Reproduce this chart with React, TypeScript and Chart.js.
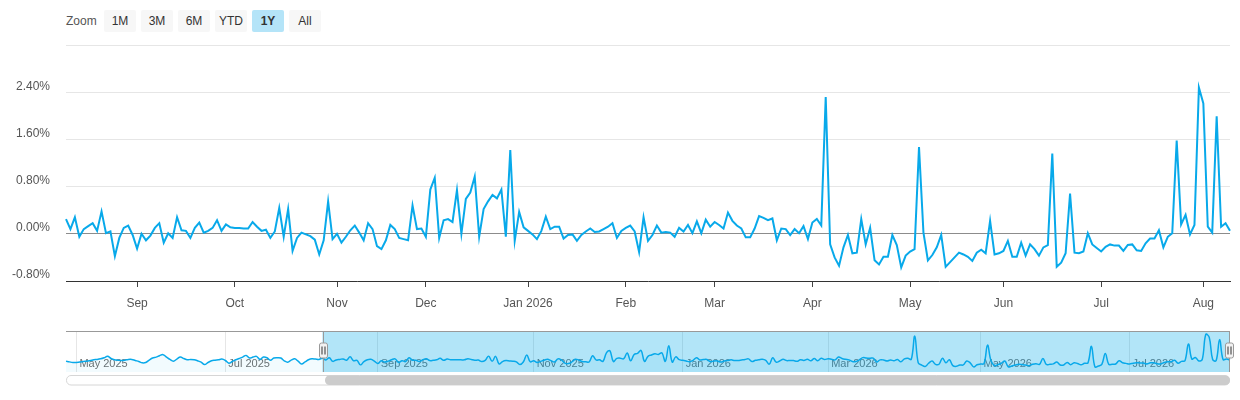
import React, { useEffect, useRef } from 'react';
import Chart from 'chart.js/auto';

// ---------- data ----------
const MAIN_START_DATE = '2025-08-08';
const NAV_START_DATE = '2025-04-28';

// daily values (%) shown in the main 1Y window
const MAIN_VALUES: number[] = [
  0.25, 0.08, 0.28, -0.05, 0.08, 0.13, 0.18, 0.05, 0.38, 0.01,
  0.04, -0.38, -0.07, 0.10, 0.14, -0.02, -0.25, 0.00, -0.11, -0.03,
  0.10, 0.18, -0.15, 0.01, -0.07, 0.28, 0.06, 0.05, -0.07, 0.10,
  0.19, 0.02, 0.05, 0.10, 0.23, 0.05, 0.16, 0.11, 0.10, 0.10,
  0.09, 0.09, 0.20, 0.12, 0.05, 0.07, -0.07, 0.04, 0.44, -0.05,
  0.42, -0.29, -0.07, 0.02, -0.01, -0.04, -0.10, -0.35, -0.11, 0.55,
  -0.09, 0.00, -0.15, -0.05, 0.06, 0.14, 0.02,
  -0.11, 0.18, 0.08, -0.21, -0.26, -0.11, 0.15, 0.08, -0.07, -0.09,
  -0.11, 0.48, 0.08, 0.09, -0.05, 0.75, 0.95, -0.07, 0.23, 0.25,
  0.20, 0.74, 0.00, 0.59, 0.70, 0.97, -0.05, 0.42, 0.55, 0.66,
  0.60, 0.75, -0.05, 1.42, -0.12, 0.37, 0.11, 0.05, -0.01, -0.09,
  0.05, 0.29, 0.08, 0.12, 0.12, -0.08, -0.02, -0.01, -0.12, -0.02,
  0.04, 0.09, 0.03, 0.04, 0.08, 0.12, 0.18, -0.07, 0.05, 0.10,
  0.14, 0.04, -0.31, 0.28, -0.12,
  -0.02, 0.14, 0.02, 0.03, 0.02, -0.05, 0.10, 0.04, 0.15, 0.01,
  0.21, 0.01, 0.24, 0.12, 0.20, 0.15, 0.09, 0.36, 0.22, 0.14,
  0.09, -0.06, -0.06, 0.09, 0.30, 0.27, 0.23, 0.26, -0.11, 0.09,
  0.08, -0.02, 0.08, 0.01, 0.13, -0.09, 0.19, 0.25, 0.14, 2.32,
  -0.18, -0.40, -0.54, -0.23, -0.02, -0.33, -0.32, 0.25, -0.18, 0.10,
  -0.45, -0.52, -0.39, -0.39, -0.02, -0.19, -0.57, -0.37, -0.30, -0.26,
  1.47, 0.02, -0.45, -0.36, -0.23, -0.02,
  -0.56, -0.48, -0.40, -0.32, -0.35, -0.39, -0.46, -0.32, -0.27, -0.33,
  0.22, -0.35, -0.33, -0.29, -0.12, -0.39, -0.39, -0.15, -0.37, -0.18,
  -0.26, -0.37, -0.23, -0.19, 1.36, -0.56, -0.49, -0.33, 0.68, -0.32,
  -0.33, -0.30, 0.01, -0.18, -0.24, -0.30, -0.22, -0.18, -0.20, -0.20,
  -0.29, -0.19, -0.18, -0.28, -0.29, -0.16, -0.08, -0.08, 0.06, -0.23,
  -0.05, 0.01, 1.58, 0.16, 0.32, -0.01, 0.15, 2.48, 2.21, 0.12,
  0.02, 1.99, 0.12, 0.18, 0.05,
];

// older values only visible in the navigator (before the 1Y window)
const PRE_WINDOW_VALUES: number[] = [
  -0.03, -0.10, -0.16, -0.15, -0.12, -0.06, -0.03, 0.03, 0.10, 0.13,
  0.19, 0.29, 0.42, 0.22, 0.10, 0.06, 0.03, 0.06, 0.13, 0.13,
  0.03, -0.06, -0.19, -0.16, 0.06, 0.26, 0.35, 0.48, 0.58, 0.35,
  0.13, -0.03, 0.16, 0.35, 0.22, 0.10, 0.13, 0.10, 0.00, -0.13,
  -0.35, -0.16, 0.00, 0.06, 0.10, 0.16, 0.03, -0.22, -0.06, 0.10,
  0.22, 0.35, 0.51, 0.26, 0.35, 0.42, 0.13, 0.35, 0.29, 0.06,
  0.26, 0.29, 0.26, 0.00, -0.13, 0.06, 0.19, -0.03, -0.29, -0.10,
  0.10, 0.19, 0.16, 0.13,
];

const Y_TICKS = [-0.8, 0, 0.8, 1.6, 2.4, 3.2];
const MONTH_NAMES = ['Jan', 'Feb', 'Mar', 'Apr', 'May', 'Jun', 'Jul', 'Aug', 'Sep', 'Oct', 'Nov', 'Dec'];
const ZOOM_BUTTONS = ['1M', '3M', '6M', 'YTD', '1Y', 'All'];
const SELECTED_BUTTON = '1Y';

// ---------- style ----------
const FONT = '"Liberation Sans", Arial, Helvetica, sans-serif';
const LINE_COLOR = '#08a9ea';
const MASK_COLOR = 'rgba(0,168,232,0.3)';

function tradingDays(start: string, count: number): Date[] {
  const out: Date[] = [];
  const d = new Date(start + 'T00:00:00Z');
  while (out.length < count) {
    const wd = d.getUTCDay();
    if (wd !== 0 && wd !== 6) out.push(new Date(d.getTime()));
    d.setUTCDate(d.getUTCDate() + 1);
  }
  return out;
}
function monthStarts(dates: Date[]): number[] {
  const r: number[] = [];
  for (let i = 1; i < dates.length; i++) {
    if (dates[i].getUTCMonth() !== dates[i - 1].getUTCMonth()) r.push(i);
  }
  return r;
}
const fmtDay = (d: Date) => d.toISOString().slice(0, 10);

function roundRect(ctx: CanvasRenderingContext2D, x: number, y: number, w: number, h: number, r: number) {
  ctx.beginPath();
  ctx.moveTo(x + r, y);
  ctx.lineTo(x + w - r, y);
  ctx.arcTo(x + w, y, x + w, y + r, r);
  ctx.lineTo(x + w, y + h - r);
  ctx.arcTo(x + w, y + h, x + w - r, y + h, r);
  ctx.lineTo(x + r, y + h);
  ctx.arcTo(x, y + h, x, y + h - r, r);
  ctx.lineTo(x, y + r);
  ctx.arcTo(x, y, x + r, y, r);
  ctx.closePath();
}

export default function App() {
  const mainRef = useRef<HTMLCanvasElement | null>(null);
  const navRef = useRef<HTMLCanvasElement | null>(null);

  useEffect(() => {
    Chart.defaults.font.family = FONT;
    const mainDates = tradingDays(MAIN_START_DATE, MAIN_VALUES.length);
    const mainTicks = monthStarts(mainDates);
    const navValues = [...PRE_WINDOW_VALUES, ...MAIN_VALUES];
    const navDates = tradingDays(NAV_START_DATE, navValues.length);
    const navTicks = monthStarts(navDates).filter((i) => navDates[i].getUTCMonth() % 2 === 0);

    const main = new Chart(mainRef.current!, {
      type: 'line',
      data: {
        labels: mainDates.map(fmtDay),
        datasets: [{
          data: MAIN_VALUES,
          borderColor: LINE_COLOR,
          borderWidth: 2,
          pointRadius: 0,
          tension: 0,
          fill: false,
        }],
      },
      options: {
        animation: false,
        responsive: false,
        maintainAspectRatio: false,
        layout: { padding: { top: 45, right: 10, left: 0, bottom: 0 } },
        plugins: { legend: { display: false }, tooltip: { enabled: false } },
        scales: {
          x: {
            type: 'category',
            offset: false,
            afterBuildTicks: (s: any) => { s.ticks = mainTicks.map((v) => ({ value: v })); },
            afterFit: (s: any) => { s.height = 39; },
            grid: { display: true, drawOnChartArea: false, drawTicks: true, tickLength: 6, color: '#444', tickColor: '#444' },
            border: { display: true, color: '#333', width: 1 },
            ticks: {
              autoSkip: false,
              maxRotation: 0,
              padding: 9,
              color: '#555',
              font: { size: 12, family: FONT },
              callback: (v: any) => {
                const d = mainDates[Number(v)];
                const m = d.getUTCMonth();
                return m === 0 ? `${MONTH_NAMES[m]} ${d.getUTCFullYear()}` : MONTH_NAMES[m];
              },
            },
          },
          y: {
            min: -0.8,
            max: 3.2,
            afterBuildTicks: (s: any) => { s.ticks = Y_TICKS.map((v) => ({ value: v })); },
            afterFit: (s: any) => { s.width = 66; },
            grid: {
              drawTicks: false,
              lineWidth: 1,
              color: (c: any) => (c.tick && Math.abs(c.tick.value) < 1e-9 ? '#8c8c8c' : '#e6e6e6'),
            },
            border: { display: false },
            ticks: {
              padding: 16,
              labelOffset: -6,
              color: '#555',
              font: { size: 12, family: FONT },
              callback: (v: any) => (Math.abs(Number(v) - 3.2) < 1e-9 ? '' : Number(v).toFixed(2) + '%'),
            },
          },
        },
      },
    });

    const navPlugin = {
      id: 'navDecor',
      beforeDatasetsDraw(chart: any) {
        const { ctx, chartArea } = chart;
        const xs = chart.scales.x;
        const xl = xs.getPixelForValue(PRE_WINDOW_VALUES.length);
        ctx.save();
        ctx.fillStyle = MASK_COLOR;
        ctx.fillRect(xl, chartArea.top, chartArea.right - xl, chartArea.bottom - chartArea.top);
        ctx.restore();
      },
      afterDraw(chart: any) {
        const { ctx, chartArea } = chart;
        const xs = chart.scales.x;
        const xl = Math.round(xs.getPixelForValue(PRE_WINDOW_VALUES.length)) + 1;
        const xr = Math.round(chartArea.right);
        const top = Math.round(chartArea.top);
        const bottom = Math.round(chartArea.bottom);
        ctx.save();
        // outline
        ctx.strokeStyle = '#999999';
        ctx.lineWidth = 1;
        ctx.beginPath();
        ctx.moveTo(chartArea.left, top + 0.5);
        ctx.lineTo(xr, top + 0.5);
        ctx.moveTo(xl + 0.5, top);
        ctx.lineTo(xl + 0.5, bottom);
        ctx.moveTo(xr - 0.5, top);
        ctx.lineTo(xr - 0.5, bottom);
        ctx.stroke();
        // handles
        const mid = (top + bottom) / 2 - 1;
        [xl + 0.5, xr - 0.5].forEach((hx) => {
          roundRect(ctx, hx - 4, mid - 7.5, 8, 15, 2);
          ctx.fillStyle = '#f2f2f2';
          ctx.fill();
          ctx.strokeStyle = '#999999';
          ctx.stroke();
          ctx.beginPath();
          ctx.moveTo(hx - 1.5, mid - 4);
          ctx.lineTo(hx - 1.5, mid + 4);
          ctx.moveTo(hx + 1.5, mid - 4);
          ctx.lineTo(hx + 1.5, mid + 4);
          ctx.strokeStyle = '#333';
          ctx.stroke();
        });
        // scrollbar
        const sy = bottom + 3.5;
        const sh = 9.5;
        roundRect(ctx, chartArea.left + 0.5, sy, chartArea.right - chartArea.left - 1, sh, 4.5);
        ctx.fillStyle = '#ffffff';
        ctx.fill();
        ctx.strokeStyle = '#d6d6d6';
        ctx.stroke();
        roundRect(ctx, xl + 2, sy, xr - xl - 2, sh, 4.5);
        ctx.fillStyle = '#cccccc';
        ctx.fill();
        ctx.restore();
      },
    };

    const nav = new Chart(navRef.current!, {
      type: 'line',
      data: {
        labels: navDates.map(fmtDay),
        datasets: [{
          data: navValues,
          borderColor: LINE_COLOR,
          borderWidth: 1.5,
          pointRadius: 0,
          tension: 0.4,
          fill: 'start',
          backgroundColor: 'rgba(0,168,232,0.05)',
        }],
      },
      options: {
        animation: false,
        responsive: false,
        maintainAspectRatio: false,
        layout: { padding: { top: 6, right: 10, left: 66, bottom: 0 } },
        plugins: { legend: { display: false }, tooltip: { enabled: false } },
        scales: {
          x: {
            type: 'category',
            offset: false,
            afterBuildTicks: (s: any) => { s.ticks = navTicks.map((v) => ({ value: v })); },
            afterFit: (s: any) => { s.height = 28; },
            grid: { display: true, drawOnChartArea: true, drawTicks: false, color: '#e6e6e6' },
            border: { display: false },
            ticks: {
              autoSkip: false,
              maxRotation: 0,
              align: 'start',
              mirror: true,
              labelOffset: 3,
              padding: 1,
              color: '#6e6e6e',
              font: { size: 11, family: FONT },
              callback: (v: any) => {
                const d = navDates[Number(v)];
                return `${MONTH_NAMES[d.getUTCMonth()]} ${d.getUTCFullYear()}`;
              },
            },
          },
          y: { display: false, min: -1.05, max: 2.8 },
        },
      },
      plugins: [navPlugin],
    });

    return () => {
      main.destroy();
      nav.destroy();
    };
  }, []);

  return (
    <div style={{ position: 'fixed', left: 0, top: 0, width: 1240, height: 400, background: '#fff', fontFamily: FONT }}>
      <div style={{ position: 'absolute', left: 66, top: 10, height: 22, lineHeight: '22px', fontSize: 12, color: '#555' }}>Zoom</div>
      {ZOOM_BUTTONS.map((b, i) => (
        <div
          key={b}
          style={{
            position: 'absolute',
            left: 104 + i * 37,
            top: 10,
            width: 32,
            height: 22,
            lineHeight: '22px',
            textAlign: 'center',
            fontSize: 12,
            fontWeight: b === SELECTED_BUTTON ? 'bold' : 'normal',
            color: '#333',
            background: b === SELECTED_BUTTON ? '#b4e4f8' : '#f7f7f7',
            borderRadius: 2,
          }}
        >
          {b}
        </div>
      ))}
      <canvas ref={mainRef} width={1240} height={320} style={{ position: 'absolute', left: 0, top: 0, width: 1240, height: 320 }} />
      <canvas ref={navRef} width={1240} height={75} style={{ position: 'absolute', left: 0, top: 325, width: 1240, height: 75 }} />
    </div>
  );
}
